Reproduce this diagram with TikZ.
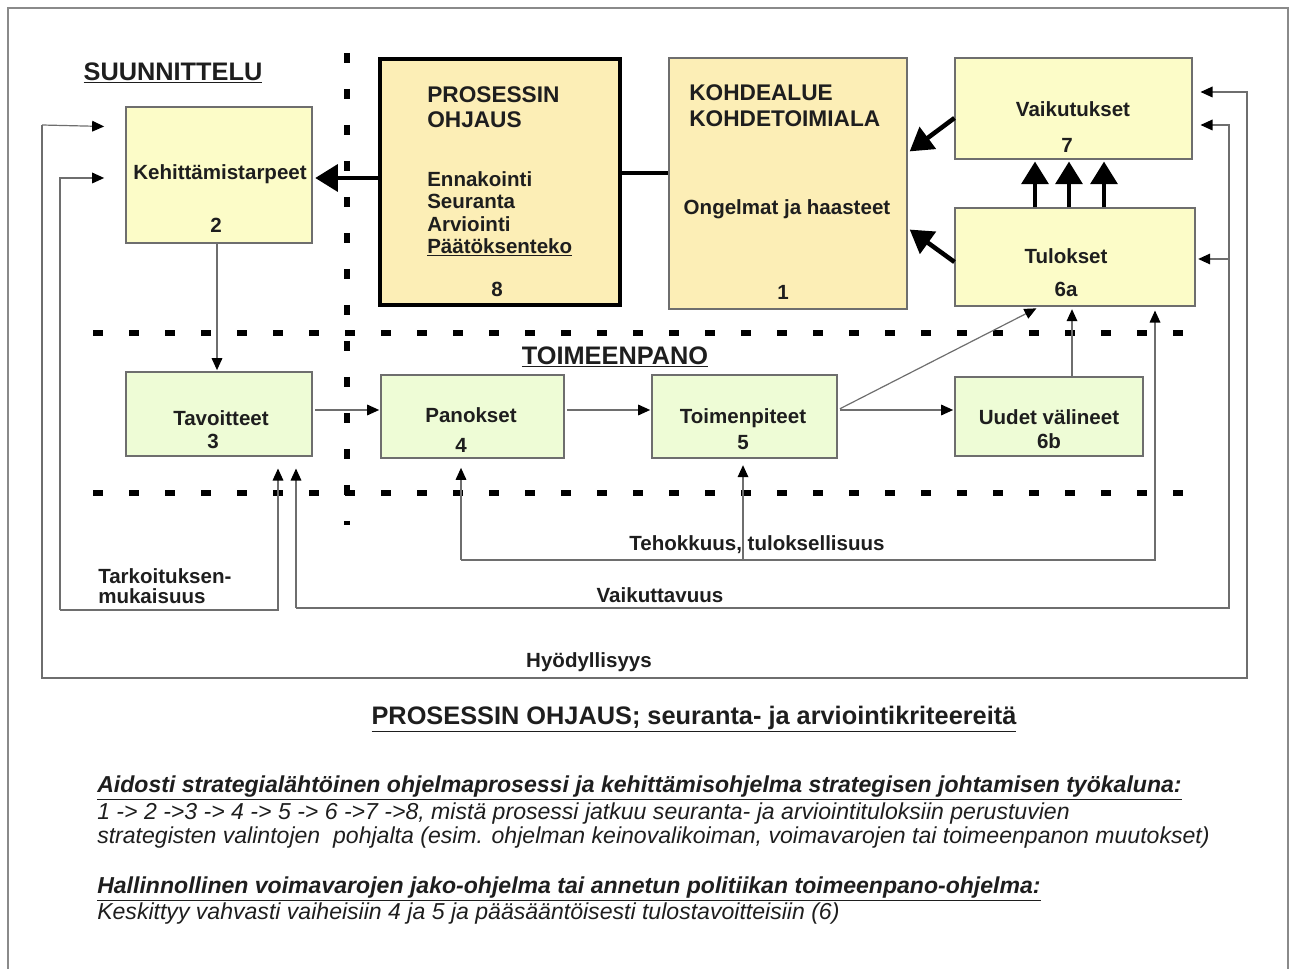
\documentclass[tikz,border=0pt]{standalone}
\usepackage{fontspec}
\setmainfont{Liberation Sans}
\usetikzlibrary{arrows.meta,calc}
\definecolor{byel}{HTML}{FCFCC8}
\definecolor{btan}{HTML}{FCEEB6}
\definecolor{bgrn}{HTML}{EEFCD6}
\definecolor{lgray}{HTML}{6E6E6E}
\definecolor{fgray}{HTML}{8A8A8A}
\definecolor{txt}{HTML}{1E1E1E}
\tikzset{
  boxbase/.style={draw=lgray, line width=0.8pt, inner sep=0pt},
  ybox/.style={boxbase, fill=byel},
  tbox/.style={boxbase, fill=btan},
  gbox/.style={boxbase, fill=bgrn},
  btxt/.style={inner sep=0pt, text=txt, font=\fontsize{15.4}{18}\selectfont\bfseries},
  htxt/.style={inner sep=0pt, text=txt, font=\fontsize{17}{20}\selectfont\bfseries},
  bigtxt/.style={inner sep=0pt, text=txt, font=\fontsize{19}{22}\selectfont\bfseries},
  itxt/.style={inner sep=0pt, anchor=west, text=txt, font=\fontsize{17.3}{20}\selectfont\itshape},
  ibtxt/.style={inner sep=0pt, anchor=west, text=txt, font=\fontsize{17.3}{20}\selectfont\itshape\bfseries},
  sepline/.style={line width=4.5pt, dash pattern=on 7.5pt off 19.5pt},
  thickarr/.style={line width=3.4pt, -{Triangle[length=17pt,width=20pt]}},
  thickline/.style={line width=3.6pt},
  garr/.style={draw=lgray, line width=0.9pt, -{Triangle[length=9pt,width=8pt,color=black]}},
  gline/.style={draw=lgray, line width=0.9pt},
}
\begin{document}
\begin{tikzpicture}[x=0.75pt,y=-0.75pt]
\useasboundingbox (0,0) rectangle (1290,969);
% outer frame
\draw[fgray, line width=0.8pt] (8,969) -- (8,8) -- (1288,8) -- (1288,969);

% separators
\draw[sepline] (93,333) -- (1190,333);
\draw[sepline] (93,493) -- (1190,493);
\draw[sepline] (347,53) -- (347,525);

% headings
\node[bigtxt] (hsuun) at (173,73) {\underline{SUUNNITTELU}};
\node[bigtxt] (htoim) at (615,357) {\underline{TOIMEENPANO}};

% boxes
\node[ybox, minimum width=139.5pt, minimum height=102pt] (b2) at (219,175) {};
\node[tbox, draw=black, line width=3.6pt, minimum width=180pt, minimum height=184.5pt] (b8) at (500,182) {};
\node[tbox, minimum width=178.5pt, minimum height=188.25pt] (b1) at (788,183.5) {};
\node[ybox, minimum width=177.75pt, minimum height=75.75pt] (b7) at (1073.5,108.5) {};
\node[ybox, minimum width=180pt, minimum height=73.5pt] (b6a) at (1075,257) {};
\node[gbox, minimum width=139.5pt, minimum height=63pt] (b3) at (219,414) {};
\node[gbox, minimum width=137.25pt, minimum height=62.25pt] (b4) at (472.5,416.5) {};
\node[gbox, minimum width=138.75pt, minimum height=62.25pt] (b5) at (744.5,416.5) {};
\node[gbox, minimum width=141pt, minimum height=59.25pt] (b6b) at (1049,416.5) {};

% box texts
\node[btxt] (t2a) at (220,174) {Kehittämistarpeet};
\node[btxt] (t2b) at (216,225) {2};
\node[htxt, anchor=west] (t8a) at (427,95) {PROSESSIN};
\node[htxt, anchor=west] (t8b) at (427,120) {OHJAUS};
\node[btxt, anchor=west] (t8c) at (427,179) {Ennakointi};
\node[btxt, anchor=west] (t8d) at (427,201) {Seuranta};
\node[btxt, anchor=west] (t8e) at (427,224) {Arviointi};
\node[btxt, anchor=west] (t8f) at (427,247) {\underline{Päätöksenteko}};
\node[btxt] (t8g) at (497,289) {8};
\node[htxt, anchor=west] (t1a) at (689,93) {KOHDEALUE};
\node[htxt, anchor=west] (t1b) at (689,119) {KOHDETOIMIALA};
\node[btxt] (t1c) at (787,209) {Ongelmat ja haasteet};
\node[btxt] (t1d) at (783,292) {1};
\node[btxt] (t7a) at (1073,109) {Vaikutukset};
\node[btxt] (t7b) at (1067,145) {7};
\node[btxt] (t6aa) at (1066,256) {Tulokset};
\node[btxt] (t6ab) at (1066,289) {6a};
\node[btxt] (t3a) at (221,418) {Tavoitteet};
\node[btxt] (t3b) at (213,441) {3};
\node[btxt] (t4a) at (471,415) {Panokset};
\node[btxt] (t4b) at (461,445) {4};
\node[btxt] (t5a) at (743,418) {Toimenpiteet};
\node[btxt] (t5b) at (743,443) {5};
\node[btxt] (t6ba) at (1049,417) {Uudet välineet};
\node[btxt] (t6bb) at (1049,441) {6b};

% thick connectors
\draw[thickarr, shorten >=2pt] (b8.west |- 0,178) -- (b2.east |- 0,178);
\draw[thickline] (b8.east |- 0,173) -- (b1.west |- 0,173);
\draw[thickarr, shorten >=2pt] (b7.west |- 0,118) -- (b1.east |- 0,153);
\draw[thickarr, shorten >=2pt] (b6a.west |- 0,262) -- (b1.east |- 0,228);
\draw[thickarr, shorten >=1.5pt] (b6a.north -| 1035,0) -- (b7.south -| 1035,0);
\draw[thickarr, shorten >=1.5pt] (b6a.north -| 1069,0) -- (b7.south -| 1069,0);
\draw[thickarr, shorten >=1.5pt] (b6a.north -| 1104,0) -- (b7.south -| 1104,0);

% thin connectors
\draw[garr, shorten >=1pt] (b2.south -| 217,0) -- (b3.north -| 217,0);
\draw[garr, shorten <=2pt, shorten >=1pt] (b3.east |- 0,410) -- (b4.west |- 0,410);
\draw[garr, shorten <=2pt, shorten >=1pt] (b4.east |- 0,410) -- (b5.west |- 0,410);
\draw[garr, shorten <=2pt, shorten >=1pt] (b5.east |- 0,410) -- (b6b.west |- 0,410);
\draw[garr, shorten <=2pt, shorten >=3pt] (b5.east |- 0,410) -- (b6a.south -| 1040,0);
\draw[garr, shorten >=2pt] (b6b.north -| 1072,0) -- (b6a.south -| 1072,0);

% Tehokkuus, tuloksellisuus
\coordinate (tehL) at (461,560);
\coordinate (tehM) at (743,560);
\coordinate (tehR) at (1155,560);
\draw[garr, shorten >=3pt] (tehL) -- (tehR) -- (tehR |- b6a.south);
\draw[garr, shorten >=7pt] (tehL) -- (tehL |- b4.south);
\draw[garr, shorten >=5pt] (tehM) -- (tehM |- b5.south);
\node[btxt] (lteh) at (757,545) {Tehokkuus, tuloksellisuus};

% Vaikuttavuus
\coordinate (vaL) at (296,608);
\coordinate (vaR) at (1229,608);
\coordinate (vaT) at (1229,125);
\coordinate (vaM) at (1229,259);
\draw[garr, shorten >=6pt] (vaL) -- (vaR) -- (vaT) -- (b7.east |- vaT);
\draw[garr, shorten >=9pt] (vaL) -- (vaL |- b3.south);
\draw[garr, shorten >=2pt] (vaM) -- (b6a.east |- vaM);
\node[btxt] (lvai) at (660,595) {Vaikuttavuus};

% Tarkoituksenmukaisuus
\coordinate (taL) at (60,610);
\coordinate (taR) at (278,610);
\coordinate (taT) at (60,178);
\draw[garr, shorten >=9pt] (taL) -- (taR) -- (taR |- b3.south);
\draw[garr, shorten >=16pt] (taL) -- (taT) -- (b2.west |- taT);
\node[btxt, anchor=west] (ltar1) at (98,576) {Tarkoituksen-};
\node[btxt, anchor=west] (ltar2) at (98,596) {mukaisuus};

% Hyodyllisyys
\coordinate (hyL) at (42,678);
\coordinate (hyR) at (1247,678);
\coordinate (hyT) at (1247,92);
\coordinate (hyLT) at (42,125);
\draw[garr, shorten >=6pt] (hyLT) -- (hyL) -- (hyR) -- (hyT) -- (b7.east |- hyT);
\draw[garr, shorten >=16pt] (hyLT) -- (b2.west |- 0,127);
\node[btxt] (lhyo) at (589,662) {Hyödyllisyys};

% bottom texts
\node[bigtxt] (title) at (694,719) {\underline{PROSESSIN OHJAUS; seuranta- ja arviointikriteereitä}};
\node[ibtxt] (p1h) at (97,788) {\underline{Aidosti strategialähtöinen ohjelmaprosessi ja kehittämisohjelma strategisen johtamisen työkaluna:}};
\node[itxt] (p1a) at (97,814) {1 -> 2 ->3 -> 4 -> 5 -> 6 ->7 ->8, mistä prosessi jatkuu seuranta- ja arviointituloksiin perustuvien};
\node[itxt] (p1b) at (97,838) {strategisten valintojen \ pohjalta (esim. ohjelman keinovalikoiman, voimavarojen tai toimeenpanon muutokset)};
\node[ibtxt] (p2h) at (97,889) {\underline{Hallinnollinen voimavarojen jako-ohjelma tai annetun politiikan toimeenpano-ohjelma:}};
\node[itxt] (p2a) at (97,914) {Keskittyy vahvasti vaiheisiin 4 ja 5 ja pääsääntöisesti tulostavoitteisiin (6)};
\end{tikzpicture}
\end{document}
